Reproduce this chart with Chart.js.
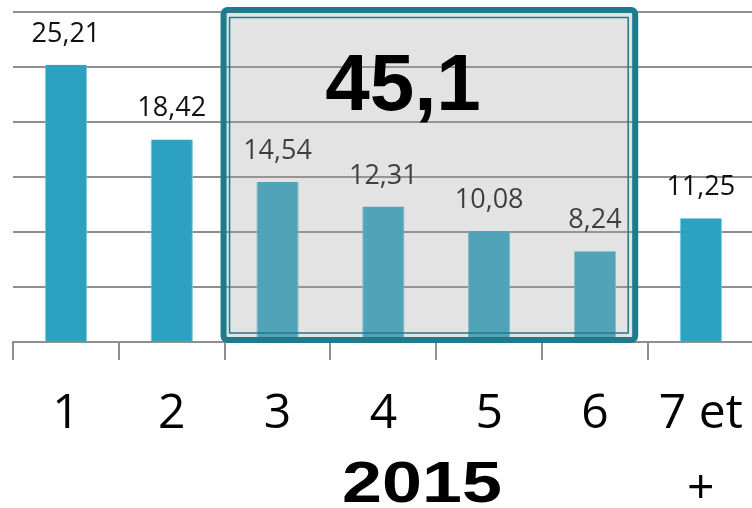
<!DOCTYPE html>
<html>
<head>
<meta charset="utf-8">
<script src="https://cdn.jsdelivr.net/npm/chart.js@4"></script>
<style>
  html, body { margin: 0; padding: 0; background: #fff; overflow: hidden; }
  #wrap { position: absolute; left: 0; top: 0; width: 759px; height: 508px; }
</style>
</head>
<body>
<div id="wrap"><canvas id="NaissancesChart"></canvas></div>
<script>
// data
const categories = ['1', '2', '3', '4', '5', '6', ['7 et', '+']];
const values = [25.21, 18.42, 14.54, 12.31, 10.08, 8.24, 11.25];
const yTicks = [0, 5, 10, 15, 20, 25, 30];
const boxTotal = '45,1';
const yearLabel = '2015';

const frNum = (v) => v.toFixed(2).replace('.', ',');

// value labels above the bars
const valueLabels = {
    id: 'valueLabels',
    afterDatasetsDraw(chart) {
        const ctx = chart.ctx;
        const meta = chart.getDatasetMeta(0);
        ctx.save();
        ctx.font = '27px "Open Sans"';
        ctx.fillStyle = '#111';
        ctx.textAlign = 'center';
        ctx.textBaseline = 'alphabetic';
        meta.data.forEach((bar, i) => {
            ctx.fillText(frNum(values[i]), bar.x, bar.y - 23);
        });
        ctx.restore();
    }
};

// grey box over categories 3 to 6
const highlightBox = {
    id: 'highlightBox',
    afterDraw(chart) {
        const ctx = chart.ctx;
        const x = chart.scales.x;
        const y = chart.scales.y;
        const left = x.getPixelForValue(1.49);
        const right = x.getPixelForValue(5.38);
        const top = y.getPixelForValue(30) - 2;
        const bottom = y.getPixelForValue(0) - 2;
        ctx.save();
        ctx.fillStyle = 'rgba(165,165,165,0.31)';
        ctx.fillRect(left, top, right - left, bottom - top);

        ctx.strokeStyle = 'rgb(31,122,140)';
        ctx.lineWidth = 6;
        ctx.lineJoin = 'round';
        ctx.beginPath();
        ctx.roundRect(left, top, right - left, bottom - top, 4);
        ctx.stroke();

        ctx.lineWidth = 1.5;
        ctx.strokeRect(left + 6, top + 7.5, right - left - 13, bottom - top - 14.5);

        // total
        ctx.fillStyle = '#000';
        ctx.textAlign = 'center';
        ctx.textBaseline = 'alphabetic';
        ctx.font = 'bold 80px "Liberation Sans"';
        ctx.fillText(boxTotal, 403, 110);

        // year, stretched like the original
        ctx.translate(422, 502);
        ctx.scale(1.26, 1);
        ctx.font = 'bold 57px "Liberation Sans"';
        ctx.fillText(yearLabel, 0, 0);
        ctx.restore();
    }
};

const NaissancesChart = new Chart(document.getElementById('NaissancesChart'), {
    type: 'bar',
    data: {
        labels: categories,
        datasets: [{
            data: values,
            backgroundColor: 'rgb(44,162,192)',
            borderColor: 'rgb(120,200,222)',
            borderWidth: { left: 1, right: 1, top: 0, bottom: 0 },
            borderSkipped: false,
            barPercentage: 0.8,
            categoryPercentage: 0.5
        }]
    },
    options: {
        responsive: true,
        maintainAspectRatio: false,
        animation: false,
        layout: { padding: { left: 13, right: 3, top: 12, bottom: 0 } },
        plugins: {
            legend: { display: false },
            tooltip: { enabled: false }
        },
        scales: {
            y: {
                min: 0,
                max: 30,
                afterBuildTicks(scale) {
                    scale.ticks = yTicks.map(v => ({ value: v }));
                },
                afterFit(scale) { scale.width = 0; },
                ticks: { display: false },
                border: { display: false },
                grid: { color: '#8f8f8f', lineWidth: 2, drawTicks: false }
            },
            x: {
                afterFit(scale) { scale.height = 166; },
                border: { display: true, color: '#8f8f8f', width: 2 },
                grid: {
                    drawOnChartArea: false,
                    drawTicks: true,
                    tickLength: 18,
                    color: '#8f8f8f',
                    lineWidth: 2
                },
                ticks: {
                    color: '#000',
                    padding: 16,
                    maxRotation: 0,
                    autoSkip: false,
                    font: { family: '"Open Sans"', size: 48, lineHeight: 1.58 }
                }
            }
        }
    },
    plugins: [valueLabels, highlightBox]
});
</script>
</body>
</html>
